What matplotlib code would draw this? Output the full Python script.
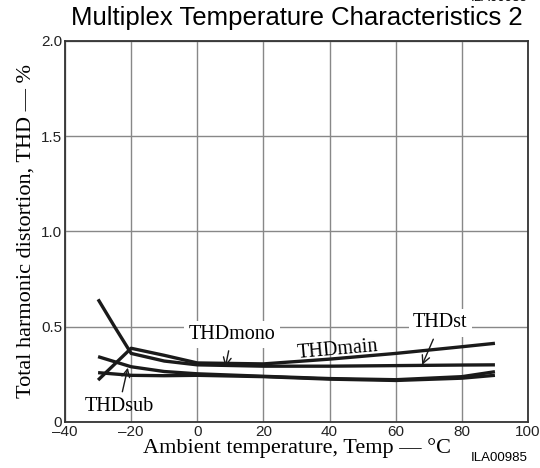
import numpy as np
import matplotlib.pyplot as plt

# curve data (temperature in degC, THD in %)
temp_main = [-30, -20, -10, 0, 20, 40, 60, 80, 90]
thd_main = [0.22, 0.387, 0.35, 0.31, 0.305, 0.33, 0.36, 0.395, 0.413]

temp_st = [-30, -25, -20, -10, 0, 20, 40, 60, 80, 90]
thd_st = [0.644, 0.50, 0.36, 0.32, 0.30, 0.293, 0.293, 0.296, 0.299, 0.30]

temp_mono = [-30, -20, -10, 0, 20, 40, 60, 80, 90]
thd_mono = [0.343, 0.29, 0.265, 0.253, 0.24, 0.228, 0.222, 0.238, 0.264]

temp_sub = [-30, -20, -10, 0, 20, 40, 60, 80, 90]
thd_sub = [0.259, 0.245, 0.243, 0.245, 0.238, 0.225, 0.218, 0.23, 0.245]

xticks = [-40, -20, 0, 20, 40, 60, 80, 100]
yticks = [0, 0.5, 1.0, 1.5, 2.0]
ytick_labels = ["0", "0.5", "1.0", "1.5", "2.0"]

serif = "Liberation Serif"
sans = "Liberation Sans"

fig = plt.figure(figsize=(5.4, 4.68), dpi=100)
ax = fig.add_axes([0.1204, 0.0983, 0.8574, 0.8141])

for xs, ys in [(temp_main, thd_main), (temp_st, thd_st),
               (temp_mono, thd_mono), (temp_sub, thd_sub)]:
    ax.plot(xs, ys, color="#1a1a1a", lw=2.4, solid_capstyle="butt", zorder=3)

ax.set_xlim(-40, 100)
ax.set_ylim(0, 2.0)
ax.set_xticks(xticks)
ax.set_xticklabels([str(v).replace("-", "\u2013") for v in xticks], fontfamily=sans, fontsize=11)
ax.set_yticks(yticks)
ax.set_yticklabels(ytick_labels, fontfamily=sans, fontsize=11)
ax.tick_params(length=0, pad=2, colors="#222222")
ax.grid(True, color="#888888", lw=1.0)
for s in ax.spines.values():
    s.set_color("#333333")
    s.set_linewidth(1.3)

ax.set_xlabel("Ambient temperature, Temp \u2014 \u00b0C", fontfamily=serif, fontsize=16, labelpad=-0.5)
ax.set_ylabel("Total harmonic distortion, THD \u2014 %", fontfamily=serif, fontsize=16, labelpad=4)

box = dict(facecolor="white", edgecolor="none", pad=3)
arrow = dict(arrowstyle="->", color="#1a1a1a", lw=1.0, mutation_scale=14, shrinkA=2, shrinkB=0)

ax.annotate("THDmono", xy=(8.5, 0.29), xytext=(10.5, 0.46), ha="center", va="center",
            fontfamily=serif, fontsize=14.5, bbox=box, arrowprops=arrow, zorder=4)
ax.annotate("THDst", xy=(68, 0.30), xytext=(73.5, 0.52), ha="center", va="center",
            fontfamily=serif, fontsize=14.5, bbox=box, arrowprops=arrow, zorder=4)
ax.annotate("THDsub", xy=(-21, 0.285), xytext=(-23.7, 0.08), ha="center", va="center",
            fontfamily=serif, fontsize=14.5, arrowprops=arrow, zorder=4)
ax.text(42.5, 0.38, "THDmain", ha="center", va="center", rotation=5,
        fontfamily=serif, fontsize=14.5, zorder=4)

fig.text(0.55, 0.962, "Multiplex Temperature Characteristics 2", ha="center", va="center",
         fontfamily=sans, fontsize=18.5)
fig.text(0.978, 1.004, "ILA00985", ha="right", va="center", fontfamily=sans, fontsize=9.5)
fig.text(0.978, 0.022, "ILA00985", ha="right", va="center", fontfamily=sans, fontsize=9.5)

fig.savefig("out.png", dpi=100)
